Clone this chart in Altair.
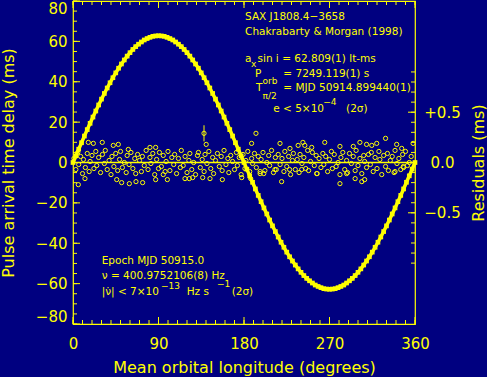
import altair as alt
import pandas as pd

BG = "#000080"
YEL = "#ffff00"
FONT = "DejaVu Sans"

# ---- orbital delay curve (ms), every 3 degrees ----
curve_lon = list(range(0, 361, 3))
curve_delay = [
    0.0, 3.3, 6.6, 9.8, 13.1, 16.3, 19.4, 22.5, 25.5, 28.5, 31.4, 34.2, 36.9, 39.5, 42.0, 44.4,
    46.7, 48.8, 50.8, 52.7, 54.4, 56.0, 57.4, 58.6, 59.7, 60.7, 61.4, 62.0, 62.5, 62.7, 62.8,
    62.7, 62.5, 62.0, 61.4, 60.7, 59.7, 58.6, 57.4, 56.0, 54.4, 52.7, 50.8, 48.8, 46.7, 44.4,
    42.0, 39.5, 36.9, 34.2, 31.4, 28.5, 25.5, 22.5, 19.4, 16.3, 13.1, 9.8, 6.6, 3.3, 0.0,
    -3.3, -6.6, -9.8, -13.1, -16.3, -19.4, -22.5, -25.5, -28.5, -31.4, -34.2, -36.9, -39.5,
    -42.0, -44.4, -46.7, -48.8, -50.8, -52.7, -54.4, -56.0, -57.4, -58.6, -59.7, -60.7, -61.4,
    -62.0, -62.5, -62.7, -62.8,
    -62.7, -62.5, -62.0, -61.4, -60.7, -59.7, -58.6, -57.4, -56.0, -54.4, -52.7, -50.8, -48.8,
    -46.7, -44.4, -42.0, -39.5, -36.9, -34.2, -31.4, -28.5, -25.5, -22.5, -19.4, -16.3, -13.1,
    -9.8, -6.6, -3.3, 0.0,
]

# ---- residuals (ms): dense band near zero ----
band_lon = [
    1, 3, 5, 6, 8, 10, 11, 13, 15, 17, 18, 20, 22, 24, 25, 27, 29, 31, 33, 34, 36, 38, 40, 41, 43,
    45, 47, 49, 50, 52, 54, 56, 57, 59, 61, 63, 65, 66, 68, 70, 72, 73, 75, 77, 79, 81, 82, 84, 86,
    88, 90, 91, 93, 95, 97, 98, 100, 102, 104, 106, 107, 109, 111, 113, 114, 116, 118, 120, 122,
    123, 125, 127, 129, 131, 132, 134, 136, 138, 139, 141, 143, 145, 147, 148, 150, 152, 154, 156,
    157, 159, 161, 163, 164, 166, 168, 170, 172, 173, 175, 177, 179, 181, 182, 184, 186, 188, 189,
    191, 193, 195, 197, 198, 200, 202, 204, 206, 207, 209, 211, 213, 214, 216, 218, 220, 222, 223,
    225, 227, 229, 231, 232, 234, 236, 238, 239, 241, 243, 245, 247, 248, 250, 252, 254, 256, 257,
    259, 261, 263, 264, 266, 268, 270, 272, 273, 275, 277, 279, 281, 282, 284, 286, 288, 289, 291,
    293, 295, 297, 298, 300, 302, 304, 306, 307, 309, 311, 313, 314, 316, 318, 320, 322, 323, 325,
    327, 329, 331, 332, 334, 336, 338, 339, 341, 343, 345, 347, 348, 350, 352, 354, 356, 357, 359,
]
band_res = [
    0.04, -0.07, 0.10, -0.02, 0.06, -0.11, 0.03, -0.05, 0.09, -0.09, 0.01, 0.07, -0.06, 0.11, -0.03,
    0.05, -0.10, 0.08, -0.01, 0.12, -0.07, 0.02, -0.12, 0.06, -0.04,
    0.09, -0.08, 0.03, 0.11, -0.05, 0.00, -0.10, 0.07, -0.02, 0.10, -0.06, 0.04, -0.11, 0.08, 0.02,
    -0.09, 0.06, -0.03, 0.12, -0.07, 0.05, -0.01, 0.09, -0.12, 0.03,
    -0.06, 0.10, -0.04, 0.07, -0.09, 0.01, 0.11, -0.08, 0.05, -0.02, 0.08, -0.11, 0.04, -0.05, 0.12,
    -0.03, 0.06, -0.10, 0.02, 0.09, -0.07, 0.00, -0.12, 0.07, 0.10,
    -0.05, 0.03, -0.09, 0.08, -0.01, 0.11, -0.06, 0.05, -0.11, 0.02, 0.09, -0.04, 0.06, -0.08, 0.12,
    -0.02, 0.04, -0.10, 0.07, 0.01, -0.07, 0.10, -0.03, 0.05, -0.12,
    0.08, -0.06, 0.02, 0.11, -0.09, 0.04, -0.01, 0.09, -0.05, 0.06, -0.11, 0.03, 0.10, -0.08, 0.00,
    0.07, -0.03, 0.12, -0.10, 0.05, -0.07, 0.08, -0.02, 0.04, -0.09,
    0.11, -0.04, 0.06, -0.12, 0.02, 0.09, -0.07, 0.03, -0.10, 0.08, -0.01, 0.05, -0.06, 0.12, -0.08,
    0.01, 0.10, -0.03, 0.07, -0.11, 0.04, -0.05, 0.09, -0.02, 0.06,
    -0.09, 0.03, 0.11, -0.06, 0.08, -0.04, 0.00, -0.12, 0.05, 0.10, -0.07, 0.02, -0.10, 0.09, -0.01,
    0.06, -0.08, 0.12, -0.03, 0.04, -0.11, 0.07, 0.01, -0.05, 0.08,
    -0.02, 0.10, -0.09, 0.05, -0.06, 0.11, 0.03, -0.12, 0.07, -0.04, 0.09, -0.08, 0.02, 0.06, -0.10,
    0.12, -0.01, 0.04, -0.07, 0.08, -0.05, 0.11, -0.03, 0.00, 0.06,
]
# ---- residuals (ms): scattered outliers ----
out_lon = [
    5.6, 12.6, 16.1, 21.4, 30.8, 42.4, 46, 47.7, 51.2, 58.2, 59.3, 66.3, 73.3, 81, 87, 87, 95, 99.3,
    117.9, 122.4, 126, 136.5, 140.2, 144.2, 157.2, 177.6, 187, 188, 192.6, 197, 200.8, 212.6, 217.9,
    219.6, 228.4, 228, 237, 240.7, 242, 244, 251.3, 256.5, 265, 281, 281, 288, 295, 297, 302, 304,
    307, 309, 314.5, 319.7, 329, 339, 340.7, 346, 347.7, 358,
]
out_res = [
    -0.22, -0.16, 0.20, 0.19, 0.20, 0.17, -0.17, 0.18, -0.20, 0.13, -0.21, -0.19, -0.20, 0.15, 0.15,
    -0.17, -0.12, -0.17, -0.16, -0.16, -0.15, -0.15, 0.18, -0.16, -0.17, -0.15, -0.16, 0.19, 0.29,
    -0.09, -0.11, -0.07, 0.19, -0.19, 0.14, -0.07, 0.17, -0.07, 0.20, 0.17, 0.15, -0.11, 0.20, 0.16,
    -0.21, -0.11, 0.16, -0.16, 0.20, -0.19, -0.17, 0.18, 0.17, 0.19, 0.24, -0.09, 0.18, 0.14, -0.04,
    0.19,
]
# one point drawn with its error bar
err_lon = [137.9]
err_res = [0.29]
err_lo = [0.21]
err_hi = [0.37]

# ---- annotation texts (position in data units) ----
note_lon = [181.1, 181.1, 194.2, 221.4, 221.4, 210.8, 287.4,
            30.2, 30.2, 30.2, 119.7, 167.0]
note_ms = [72.1, 64.6, 51.5, 43.7, 36.8, 26.5, 26.5,
           -48.6, -56.2, -64.1, -64.1, -64.1]
note_text = ["SAX J1808.4\u22123658", "Chakrabarty & Morgan (1998)",
             "sin i = 62.809(1) lt-ms", "= 7249.119(1) s", "= MJD 50914.899440(1)",
             "e < 5\u00d710", "(2\u03c3)",
             "Epoch MJD 50915.0", "\u03bd = 400.9752106(8) Hz", "|\u03bd\u0307| < 7\u00d710",
             "Hz s", "(2\u03c3)"]
# single letters of the symbols
sym_lon = [181.1, 191.6, 192.6]
sym_ms = [51.5, 43.7, 36.8]
sym_text = ["a", "P", "T"]
# sub- and superscripts
sub_lon = [187.4, 199.5, 199.5, 263.5, 92.5, 151.5]
sub_ms = [48.8, 40.4, 33.0, 30.0, -61.0, -60.4]
sub_text = ["x", "orb", "\u03c0/2", "\u22124", "\u221213", "\u22121"]

# frame tick values
x_minor = list(range(0, 361, 10))
x_major = [0, 90, 180, 270, 360]
delay_minor = list(range(-80, 81, 5))
delay_major = list(range(-80, 81, 20))
res_minor = [-1.0, -0.9, -0.8, -0.7, -0.6, -0.5, -0.4, -0.3, -0.2, -0.1, 0.0,
             0.1, 0.2, 0.3, 0.4, 0.5, 0.6, 0.7, 0.8, 0.9]
res_major = [-0.5, 0.0, 0.5]

curve_df = pd.DataFrame({"lon": curve_lon, "delay": curve_delay})
res_df = pd.DataFrame({"lon": band_lon[:len(band_res)] + out_lon,
                       "res": band_res[:len(band_lon)] + out_res})
err_df = pd.DataFrame({"lon": err_lon, "res": err_res, "lo": err_lo, "hi": err_hi})
note_df = pd.DataFrame({"lon": note_lon, "ms": note_ms, "t": note_text})
sym_df = pd.DataFrame({"lon": sym_lon, "ms": sym_ms, "t": sym_text})
sub_df = pd.DataFrame({"lon": sub_lon, "ms": sub_ms, "t": sub_text})
zero_df = pd.DataFrame({"res": [0.0]})

W, H = 342, 323
MINOR, MAJOR = 4, 7
x_scale = alt.Scale(domain=[0, 360], nice=False, zero=False)
yd_scale = alt.Scale(domain=[-80, 80], nice=False, zero=False)
yr_scale = alt.Scale(domain=[-1.605, 1.605], nice=False, zero=False)


def xticks(values, edge, inward):
    return alt.Chart(pd.DataFrame({"v": values})).mark_rule(color=YEL, strokeWidth=1).encode(
        x=alt.X("v:Q", scale=x_scale, axis=None),
        y=alt.value(edge), y2=alt.value(inward),
    )


def yticks(values, scale, edge, inward):
    return alt.Chart(pd.DataFrame({"v": values})).mark_rule(color=YEL, strokeWidth=1).encode(
        y=alt.Y("v:Q", scale=scale, axis=None),
        x=alt.value(edge), x2=alt.value(inward),
    )


curve_line = alt.Chart(curve_df).mark_line(color=YEL, strokeWidth=3.5).encode(
    x=alt.X("lon:Q", scale=x_scale,
            axis=alt.Axis(orient="bottom", values=x_major, ticks=False, tickSize=0,
                          domain=False, grid=False, labelFlush=False, labelPadding=12,
                          labelFontSize=15, title="Mean orbital longitude (degrees)",
                          titleFontSize=16, titlePadding=8)),
    y=alt.Y("delay:Q", scale=yd_scale,
            axis=alt.Axis(orient="left", values=delay_major, ticks=False, tickSize=0,
                          domain=False, grid=False, labelFlush=True, labelFlushOffset=0,
                          labelPadding=6, labelFontSize=15,
                          title="Pulse arrival time delay (ms)", titleFontSize=16,
                          titlePadding=19)),
)
curve_pts = alt.Chart(curve_df).mark_square(size=22, color=YEL, opacity=1).encode(
    x=alt.X("lon:Q", scale=x_scale, axis=None),
    y=alt.Y("delay:Q", scale=yd_scale, axis=None),
)


def text_layer(df, size):
    return alt.Chart(df).mark_text(align="left", baseline="middle", color=YEL,
                                   fontSize=size, font=FONT).encode(
        x=alt.X("lon:Q", scale=x_scale, axis=None),
        y=alt.Y("ms:Q", scale=yd_scale, axis=None),
        text="t:N",
    )


delay_group = alt.layer(
    curve_line, curve_pts,
    text_layer(note_df, 10.5), text_layer(sym_df, 10.5), text_layer(sub_df, 9),
    xticks(x_minor, H, H - MINOR), xticks(x_major, H, H - MAJOR),
    xticks(x_minor, 0, MINOR), xticks(x_major, 0, MAJOR),
    yticks(delay_minor, yd_scale, 0, MINOR), yticks(delay_major, yd_scale, 0, MAJOR),
).resolve_axis(x="independent", y="independent")

res_pts = alt.Chart(res_df).mark_point(shape="circle", filled=False, size=18, strokeWidth=1,
                                       color=YEL, opacity=1).encode(
    x=alt.X("lon:Q", scale=x_scale, axis=None),
    y=alt.Y("res:Q", scale=yr_scale,
            axis=alt.Axis(orient="right", values=res_major, ticks=False, tickSize=0,
                          domain=False, grid=False, labelAlign="center", labelPadding=27,
                          labelFontSize=15,
                          labelExpr="datum.value > 0 ? '+' + format(datum.value, '.1f') : "
                                    "(datum.value < 0 ? '\u2212' + format(-datum.value, '.1f') : '0.0')",
                          title="Residuals (ms)", titleAngle=270, titleFontSize=16,
                          titlePadding=26)),
)

zero_rule = alt.Chart(zero_df).mark_rule(color=YEL, strokeWidth=1.5).encode(
    y=alt.Y("res:Q", scale=yr_scale, axis=None),
)

err_bar = alt.Chart(err_df).mark_rule(color=YEL, strokeWidth=1).encode(
    x=alt.X("lon:Q", scale=x_scale, axis=None),
    y=alt.Y("lo:Q", scale=yr_scale, axis=None),
    y2="hi:Q",
)
err_pt = alt.Chart(err_df).mark_point(shape="circle", filled=False, size=18, strokeWidth=1,
                                      color=YEL, opacity=1).encode(
    x=alt.X("lon:Q", scale=x_scale, axis=None),
    y=alt.Y("res:Q", scale=yr_scale, axis=None),
)

res_group = alt.layer(
    res_pts, zero_rule, err_bar, err_pt,
    yticks(res_minor, yr_scale, W, W - MINOR), yticks(res_major, yr_scale, W, W - MAJOR),
).resolve_axis(x="independent", y="independent")

chart = alt.layer(delay_group, res_group).resolve_scale(y="independent").resolve_axis(
    x="independent", y="independent"
).properties(
    width=W, height=H, background=BG, autosize="none",
    padding={"left": 73, "top": 1, "right": 72, "bottom": 53},
).configure_view(
    stroke=YEL, strokeWidth=1.2, fill=BG,
).configure_axis(
    labelColor=YEL, titleColor=YEL, tickColor=YEL, labelFont=FONT, titleFont=FONT,
    titleFontWeight="normal", domain=False, grid=False,
)

chart.save("out.html", embed_options={"renderer": "svg", "actions": False})
